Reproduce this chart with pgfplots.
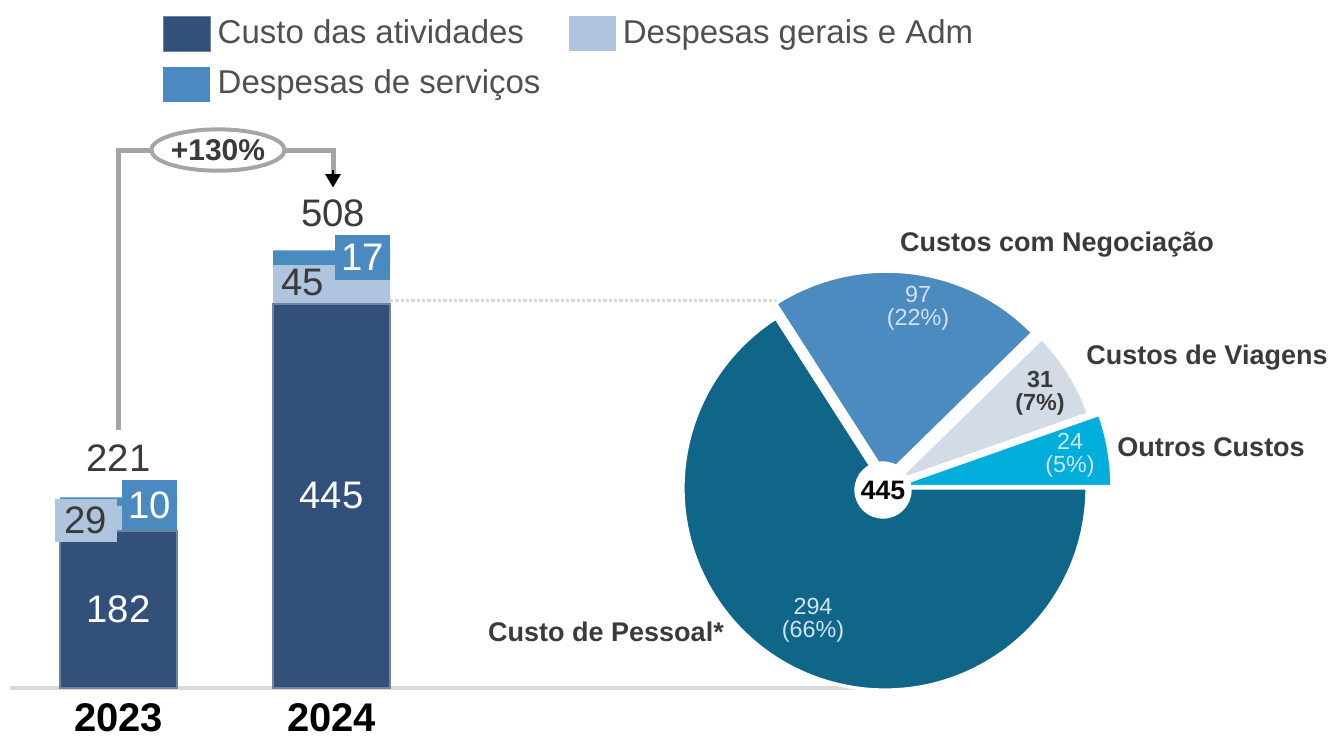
\documentclass[border=0pt]{standalone}
\usepackage{pgfplots}
\pgfplotsset{compat=1.18}
\usepackage{fontspec}
\setmainfont{Liberation Sans}
\usetikzlibrary{arrows.meta,shapes.geometric}
\definecolor{cDark}{HTML}{32507A}
\definecolor{cLight}{HTML}{AEC5DD}
\definecolor{cServ}{HTML}{4A8AC0}
\definecolor{pDark}{HTML}{0F6689}
\definecolor{pNeg}{HTML}{4B8BBF}
\definecolor{pViag}{HTML}{D3DBE6}
\definecolor{pOut}{HTML}{00AEDC}
\definecolor{gline}{HTML}{A3A6A9}
\definecolor{cBase}{HTML}{D9D9D9}
\definecolor{tgray}{HTML}{3A3A3A}
\definecolor{lgray}{HTML}{505050}
\definecolor{ltxt}{HTML}{D2E2EF}
% pie values
\def\vP{294}\def\vN{97}\def\vV{31}\def\vO{24}
\pgfmathsetmacro\tot{\vP+\vN+\vV+\vO}
\pgfmathsetmacro\aO{360*(\vO/\tot)}
\pgfmathsetmacro\aV{\aO+360*(\vV/\tot)}
\pgfmathsetmacro\aN{\aV+360*(\vN/\tot)}
\newcommand\slice[5]{% color, start, end, R, explode
\fill[#1, draw=white, line width=1pt] (axis cs:{#5*cos((#2+#3)/2)},{#5*sin((#2+#3)/2)}) -- (axis cs:{#5*cos((#2+#3)/2)+#4*cos(#2)},{#5*sin((#2+#3)/2)+#4*sin(#2)}) arc[start angle=#2, end angle=#3, radius=#4*0.3pt] -- cycle;}
\newcommand\fs[1]{\fontsize{#1}{#1}\selectfont}
\pgfplotsset{barframe/.style={
  at={(35.55pt,-206.4pt)}, anchor=origin,
  x=63.9pt, y=0.2589pt,
  xmin=-0.509, xmax=3.575, ymin=0, ymax=646, clip=false}}
\begin{document}
\begin{tikzpicture}
\useasboundingbox (0pt,0pt) rectangle (398.4pt,-220.8pt);
\begin{axis}[
  barframe,
  ybar stacked, bar width=35.1pt,
  axis x line*=bottom, axis y line=none,
  x axis line style={draw=cBase, line width=1.2pt, -},
  xtick={0,1}, xticklabels={2023,2024}, major tick length=0pt,
  xticklabel style={font=\bfseries\fs{12}, text=black, yshift=-1pt},
  ytick=\empty,
  legend columns=2,
  legend cell align=left,
  legend image code/.code={\fill[#1] (0pt,-5.25pt) rectangle (14.1pt,5.25pt);},
  legend style={at={(0.1747,1.2126)}, anchor=north west, draw=none, fill=none,
    font=\fs{9.9}, text=lgray, row sep=2.5pt, inner sep=0pt,
    /tikz/every even column/.append style={column sep=6.6pt}},
]
\addplot[fill=cDark, draw=cDark!70!white, line width=0.4pt] coordinates {(0,182) (1,445)};
\addlegendentry{Custo das atividades}
\addplot[fill=cLight, draw=none] coordinates {(0,29) (1,45)};
\addlegendentry{Despesas gerais e Adm}
\addplot[fill=cServ, draw=none] coordinates {(0,10) (1,17)};
\addlegendentry{Despesas de serviços}
\end{axis}
\begin{axis}[barframe, hide axis]
\addplot[draw=none] coordinates {(0,0)};
% dotted link
\draw[cBase, line width=0.9pt, dash pattern=on 1pt off 0.6pt] (axis cs:1.275,449.6) -- (axis cs:3.106,449.6);
% bracket
\draw[gline, line width=1.5pt] (axis cs:0,299) |- (axis cs:0.2,623.4);
\draw[gline, line width=1.5pt] (axis cs:0.74,623.4) -| (axis cs:1.007,596);
\draw[black, line width=0.8pt, -{Triangle[length=4pt,width=4.5pt]}] (axis cs:1.007,600) -- (axis cs:1.007,580);
% value labels
\node[font=\fs{11.5}, text=white] at (axis cs:0,91) {182};
\node[font=\fs{11.5}, text=white] at (axis cs:1,223.6) {445};
\node[fill=cLight, minimum width=18.6pt, minimum height=12.9pt, inner sep=0pt, font=\fs{11.5}, text=tgray] at (axis cs:-0.153,194.7) {29};
\node[fill=cServ, minimum width=16.5pt, minimum height=15pt, inner sep=0pt, font=\fs{11.5}, text=white] at (axis cs:0.1455,212) {10};
\node[font=\fs{11.5}, text=tgray] at (axis cs:0.866,470) {45};
\node[fill=cServ, minimum width=16.5pt, minimum height=13.5pt, inner sep=0pt, font=\fs{11.5}, text=white] at (axis cs:1.1455,498.8) {17};
\node[font=\fs{11.5}, text=tgray] at (axis cs:0,266.5) {221};
\node[font=\fs{11.5}, text=tgray] at (axis cs:1.007,550) {508};
\node[ellipse, draw=gline, line width=1.2pt, fill=white, minimum width=38pt, minimum height=12.4pt, inner sep=0pt, font=\bfseries\fs{9}, text=tgray] at (axis cs:0.467,623.4) {+130\%};
\end{axis}
\begin{axis}[
  at={(265.5pt,-146.4pt)}, anchor=origin,
  x=0.3pt, y=0.3pt,
  xmin=-250, xmax=250, ymin=-250, ymax=250,
  hide axis, clip=false,
]
\addplot[draw=none] coordinates {(0,0)};
\slice{pDark}{\aN}{360}{202}{0}
\slice{pNeg}{\aV}{\aN}{205}{12}
\slice{pViag}{\aO}{\aV}{205}{12}
\slice{pOut}{0}{\aO}{218}{9}
\fill[white] (axis cs:-2,-2) circle[radius=8.6pt];
\node[font=\bfseries\fs{8}, text=black] at (axis cs:-2,-2) {445};
% labels
\node[font=\bfseries\fs{8.1}, text=tgray] at (axis cs:172,243) {Custos com Negociação};
\node[font=\bfseries\fs{8.1}, text=tgray] at (axis cs:322,130) {Custos de Viagens};
\node[font=\bfseries\fs{8.1}, text=tgray] at (axis cs:326,41) {Outros Custos};
\node[font=\bfseries\fs{8.1}, text=tgray] at (axis cs:-279,-144) {Custo de Pessoal*};
\node[font=\fs{7}, text=ltxt, align=center] at (axis cs:33,180) {97\\(22\%)};
\node[font=\bfseries\fs{7}, text=tgray, align=center] at (axis cs:155,95) {31\\(7\%)};
\node[font=\fs{7}, text=ltxt, align=center] at (axis cs:185,33) {24\\(5\%)};
\node[font=\fs{7}, text=ltxt, align=center] at (axis cs:-72,-132) {294\\(66\%)};
\end{axis}
\end{tikzpicture}
\end{document}
